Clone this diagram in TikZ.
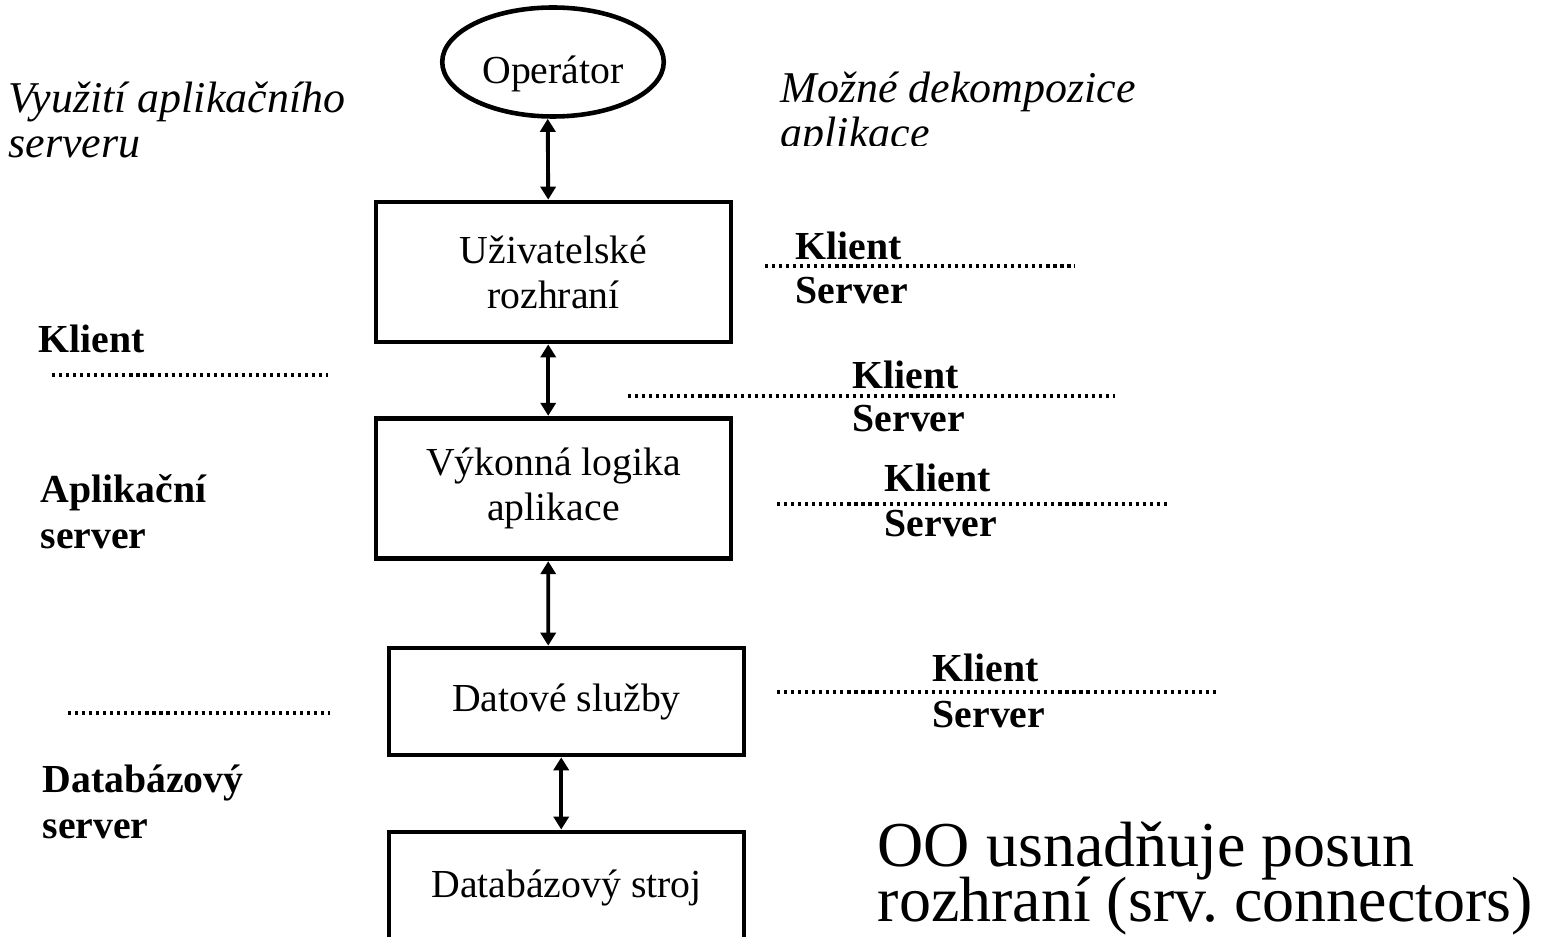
\documentclass[tikz,border=0pt]{standalone}
\usepackage{fontspec}
\setmainfont{Liberation Serif}
\frenchspacing
\usetikzlibrary{shapes.geometric, arrows.meta, positioning}

\tikzset{
  tier/.style={draw, line width=1.35pt, minimum width=101pt, align=center,
    font=\fontsize{11.3}{12.8}\selectfont},
  link/.style={{Triangle[length=3.7pt,width=4.3pt]}-{Triangle[length=3.7pt,width=4.3pt]}, line width=1.1pt},
  cut/.style={line width=0.9pt, dash pattern=on 0.9pt off 1.1pt},
  side/.style={anchor=base west, inner sep=0pt, align=left, font=\fontsize{11.3}{12.8}\selectfont\bfseries},
  note/.style={anchor=base west, inner sep=0pt, align=left, font=\fontsize{12.5}{12.8}\selectfont\itshape}
}

\begin{document}
\begin{tikzpicture}[x=0.01cm, y=-0.01cm]
\useasboundingbox (0,0) rectangle (1542,937);

\node[ellipse, draw, line width=1.3pt, minimum width=63pt, minimum height=31pt] (op) at (553,62) {};
\node[font=\fontsize{11.3}{12.8}\selectfont] (optext) at ([yshift=-3.3pt]op.center) {Operátor};
\node[tier, minimum height=39.8pt] (ui) at (553.5,272) {Uživatelské\\rozhraní};
\node[tier, minimum height=40pt] (logic) at (553.5,488.5) {Výkonná logika\\aplikace};
\node[tier, minimum height=30.4pt] (data) at (566.5,701.5) {Datové služby};
\node[tier, minimum height=31.9pt] (db) at (566.5,888) {Databázový stroj};

\draw[link] ([xshift=-1.5pt]op.south) -- ([xshift=-1.5pt]ui.north);
\draw[link] ([xshift=-1.5pt]ui.south) -- ([xshift=-1.5pt]logic.north);
\draw[link] ([xshift=-1.5pt]logic.south) -- ([xshift=-5.2pt]data.north);
\draw[link] ([xshift=-1.5pt]data.south) -- ([xshift=-1.5pt]db.north);

% left side
\node[note] (use) at (8,158) {Využití aplikačního\\serveru};
\node[side] (cl) at (38,353) {Klient};
\draw[cut] (52,375) -- (328,375);
\node[side] (app) at (40,548) {Aplikační\\server};
\draw[cut] (68,713) -- (330,713);
\node[side] (dbs) at (42,838) {Databázový\\server};

% right side
\begin{scope}
\clip (700,0) rectangle (1300,146);
\node[note] (decomp) at (780,148) {Možné dekompozice\\aplikace};
\end{scope}

\node[side] (k1) at (795,260) {Klient};
\draw[cut] (765,266) -- (1075,266);
\node[side] (s1) at (795,304) {Server};

\node[side] (k2) at (852,389) {Klient};
\draw[cut] (628,396) -- (1115,396);
\node[side] (s2) at (852,432) {Server};

\node[side] (k3) at (884,492) {Klient};
\draw[cut] (777,504) -- (1167,504);
\node[side] (s3) at (884,537) {Server};

\node[side] (k4) at (932,681) {Klient};
\draw[cut] (777,692) -- (1217,692);
\node[side] (s4) at (932,727) {Server};

\node[anchor=base west, inner sep=0pt, align=left,
  font={\fontsize{18.2}{15.6}\selectfont\lineskiplimit=-20pt}] (oo) at (877,921)
  {OO usnadňuje posun\\rozhraní (srv. connectors)};

\end{tikzpicture}
\end{document}
